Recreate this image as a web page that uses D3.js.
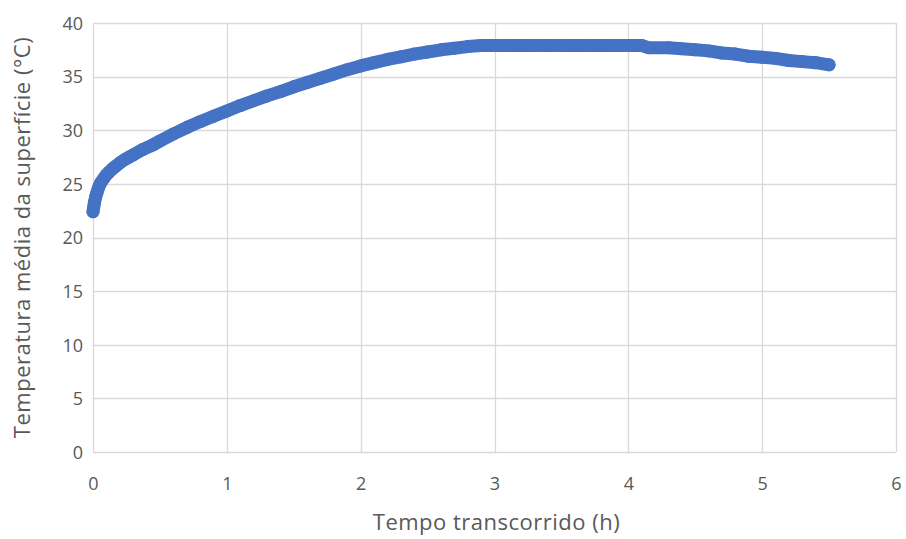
<!DOCTYPE html>
<html>
<head>
<meta charset="utf-8">
<script src="https://cdn.jsdelivr.net/npm/d3@7/dist/d3.min.js"></script>
<style>
  html, body { margin: 0; padding: 0; background: #fff; }
  svg { display: block; font-family: "Open Sans", "Liberation Sans", sans-serif; }
</style>
</head>
<body>
<svg id="chart" width="906" height="539"></svg>
<script>
// Elapsed time (h) and mean surface temperature (°C)
const tempoHoras = [
  0, 0.005, 0.01, 0.015, 0.02, 0.03, 0.04, 0.05, 0.06, 0.08, 0.1, 0.12, 0.145, 0.17, 0.2, 0.235, 0.27,
  0.3, 0.37, 0.45, 0.5, 0.6, 0.7, 0.8, 0.9,
  1.0, 1.1, 1.2, 1.3, 1.4, 1.5, 1.6, 1.7, 1.8, 1.9, 2.0, 2.1, 2.2, 2.3, 2.4, 2.5, 2.6, 2.7,
  2.8, 2.9, 3.0, 3.2, 3.4, 3.6, 3.8, 4.0, 4.1, 4.15, 4.3, 4.4, 4.5, 4.6, 4.7, 4.8, 4.9, 5.0,
  5.1, 5.2, 5.3, 5.4, 5.5
];
const temperatura = [
  22.4, 22.8, 23.2, 23.5, 23.8, 24.2, 24.6, 24.9, 25.15, 25.5, 25.85, 26.1, 26.4, 26.65, 26.95, 27.25, 27.5,
  27.7, 28.2, 28.65, 29.0, 29.65, 30.25, 30.8, 31.3,
  31.8, 32.3, 32.75, 33.2, 33.6, 34.05, 34.45, 34.85, 35.25, 35.65, 36.0, 36.3, 36.6, 36.85, 37.1, 37.3, 37.5, 37.65,
  37.8, 37.9, 37.9, 37.9, 37.9, 37.9, 37.9, 37.9, 37.9, 37.7, 37.7, 37.6, 37.5, 37.4, 37.2, 37.1, 36.9, 36.8,
  36.7, 36.5, 36.4, 36.3, 36.1
];
const xTicks = [0, 1, 2, 3, 4, 5, 6];
const yTicks = [0, 5, 10, 15, 20, 25, 30, 35, 40];
const xTitle = "Tempo transcorrido (h)";
const yTitle = "Temperatura média da superfície (°C)";

const svg = d3.select("#chart");
const plot = { left: 93, right: 896, top: 23, bottom: 452 };

const x = d3.scaleLinear().domain([0, 6]).range([plot.left, plot.right]);
const y = d3.scaleLinear().domain([0, 40]).range([plot.bottom, plot.top]);

const gridColor = "#d9d9d9";
const textColor = "#595959";

// Gridlines
svg.append("g").selectAll("line.h").data(yTicks).join("line")
  .attr("x1", plot.left).attr("x2", plot.right)
  .attr("y1", d => Math.round(y(d)) + 0.5).attr("y2", d => Math.round(y(d)) + 0.5)
  .attr("stroke", gridColor).attr("stroke-width", 1.3);
svg.append("g").selectAll("line.v").data(xTicks).join("line")
  .attr("y1", plot.top).attr("y2", plot.bottom)
  .attr("x1", d => Math.round(x(d)) + 0.5).attr("x2", d => Math.round(x(d)) + 0.5)
  .attr("stroke", gridColor).attr("stroke-width", 1.3);

// Axes (labels only, styled like the spreadsheet)
const xAxis = d3.axisBottom(x).tickValues(xTicks).tickSize(0).tickPadding(0).tickFormat(d3.format("d"));
const gx = svg.append("g").attr("transform", `translate(0,${plot.bottom})`).call(xAxis);
gx.select(".domain").remove();
gx.selectAll("text").attr("dy", null).attr("y", 38)
  .attr("fill", textColor).attr("font-size", 18).attr("font-family", "Open Sans, sans-serif");

const yAxis = d3.axisLeft(y).tickValues(yTicks).tickSize(0).tickPadding(0).tickFormat(d3.format("d"));
const gy = svg.append("g").attr("transform", `translate(${plot.left},0)`).call(yAxis);
gy.select(".domain").remove();
gy.selectAll("text").attr("x", -10).attr("dy", "0.35em")
  .attr("fill", textColor).attr("font-size", 18).attr("font-family", "Open Sans, sans-serif");

// Axis titles
svg.append("text")
  .attr("x", (plot.left + plot.right) / 2 + 2).attr("y", 530)
  .attr("text-anchor", "middle").attr("fill", textColor).attr("font-size", 22)
  .attr("letter-spacing", 0.5)
  .text(xTitle);
svg.append("text")
  .attr("transform", `translate(30,${(plot.top + plot.bottom) / 2}) rotate(-90)`)
  .attr("text-anchor", "middle").attr("fill", textColor).attr("font-size", 22)
  .attr("letter-spacing", 0.5)
  .text(yTitle);

// Series: dense round markers joined into a thick band
const pts = tempoHoras.map((t, i) => [t, temperatura[i]]);
const color = "#4472c4";
svg.append("path")
  .datum(pts)
  .attr("d", d3.line().x(d => x(d[0])).y(d => y(d[1])))
  .attr("fill", "none").attr("stroke", color).attr("stroke-width", 13)
  .attr("stroke-linecap", "round").attr("stroke-linejoin", "round");
svg.append("g").selectAll("circle").data(pts).join("circle")
  .attr("cx", d => x(d[0])).attr("cy", d => y(d[1])).attr("r", 6.5)
  .attr("fill", color);
</script>
</body>
</html>
